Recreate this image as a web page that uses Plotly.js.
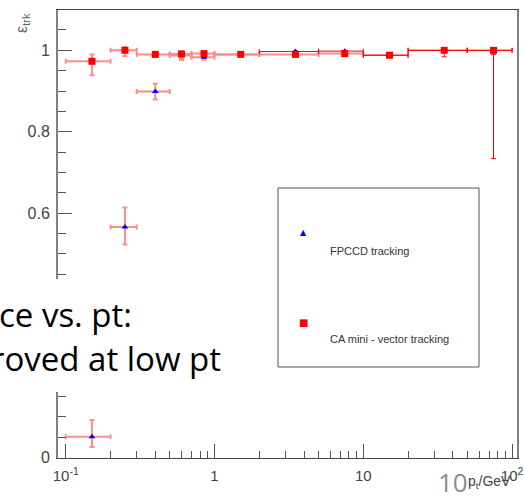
<!DOCTYPE html>
<html>
<head>
<meta charset="utf-8">
<script src="https://cdn.plot.ly/plotly-3.0.1.min.js"></script>
<style>html,body{margin:0;padding:0;background:#fff;}#chart{width:524px;height:502px;}</style>
</head>
<body>
<div id="chart"></div>
<script>
// ---- data ----
const ptLow    = [0.1, 0.2, 0.3, 0.5, 0.7, 1, 2, 5, 10, 20, 50];
const ptHigh   = [0.2, 0.3, 0.5, 0.7, 1, 2, 5, 10, 20, 50, 100];
const ptCenter = [0.15, 0.25, 0.4, 0.6, 0.85, 1.5, 3.5, 7.5, 15, 35, 75];

const caEff     = [0.973, 1.000, 0.990, 0.991, 0.992, 0.990, 0.990, 0.992, 0.988, 1.000, 1.000];
const caErrUp   = [0.017, 0.008, 0.006, 0.007, 0.004, 0.003, 0.003, 0.003, 0.004, 0.000, 0.000];
const caErrDown = [0.034, 0.014, 0.007, 0.015, 0.005, 0.003, 0.003, 0.003, 0.004, 0.016, 0.266];

const fpEff     = [0.051, 0.566, 0.899, 0.987, 0.983, 0.990, 0.997, 0.998, 0.988, 1.000, 1.000];
const fpErrUp   = [0.041, 0.048, 0.019, 0.005, 0.005, 0.003, 0.002, 0.002, 0.004, 0.000, 0.000];
const fpErrDown = [0.025, 0.043, 0.020, 0.006, 0.006, 0.003, 0.003, 0.003, 0.004, 0.005, 0.010];

const seriesNames = ["FPCCD tracking", "CA mini - vector tracking"];
const xTickVals = [0.1, 1, 10, 100];
const xTickText = ["10<sup>-1</sup>", "1", "10", "10<sup>2</sup>"];
const xMinorVals = [0.2,0.3,0.4,0.5,0.6,0.7,0.8,0.9,2,3,4,5,6,7,8,9,20,30,40,50,60,70,80,90];
const yTickVals = [0, 0.2, 0.4, 0.6, 0.8, 1];
const yTickText = ["0", "", "", "0.6", "0.8", "1"];   // 0.2 and 0.4 are hidden behind the slide text box

// ---- layout helpers ----
const W = 524, H = 502, ML = 58, MR = 7, MT = 10, MB = 44;
const PW = W - ML - MR, PH = H - MT - MB;
const px = v => (v - ML) / PW;
const py = v => (H - MB - v) / PH;

function pick(arr, idx) { return idx.map(i => arr[i]); }
const allIdx = ptCenter.map((_, i) => i);
const xm = ptCenter.map((c, i) => c - ptLow[i]);
const xp = ptCenter.map((c, i) => ptHigh[i] - c);

function errTrace(eff, up, down, idx, color, thick) {
  return {
    type: 'scatter', mode: 'markers', hoverinfo: 'skip', showlegend: false,
    x: pick(ptCenter, idx), y: pick(eff, idx),
    marker: {size: 1, color: 'rgba(0,0,0,0)'},
    error_x: {type: 'data', symmetric: false, array: pick(xp, idx), arrayminus: pick(xm, idx),
              color: color, thickness: thick, width: 2.5},
    error_y: {type: 'data', symmetric: false, array: pick(up, idx), arrayminus: pick(down, idx),
              color: color, thickness: thick, width: 2.5}
  };
}
const soft = '#ff8c8c', hard = '#ff0000';
const fpSoftIdx = allIdx.filter(i => ptCenter[i] < 2), fpHardIdx = allIdx.filter(i => ptCenter[i] >= 2);
const caSoftIdx = allIdx.filter(i => ptCenter[i] < 10), caHardIdx = allIdx.filter(i => ptCenter[i] >= 10);

const traces = [
  errTrace(fpEff, fpErrUp, fpErrDown, fpSoftIdx, soft, 2),
  errTrace(caEff, caErrUp, caErrDown, caSoftIdx, soft, 2),
  errTrace(fpEff, fpErrUp, fpErrDown, fpHardIdx, hard, 1),
  errTrace(caEff, caErrUp, caErrDown, caHardIdx, hard, 1),
  {type: 'scatter', mode: 'markers', name: seriesNames[0], x: ptCenter, y: fpEff,
   marker: {symbol: 'triangle-up', size: 6, color: '#0000ff'}},
  {type: 'scatter', mode: 'markers', name: seriesNames[1], x: ptCenter, y: caEff,
   marker: {symbol: 'square', size: 7, color: '#ff0000'}}
];

const tickFont = {family: 'Liberation Sans, Arial, sans-serif', size: 16, color: '#444'};
const layout = {
  width: W, height: H,
  margin: {l: ML, r: MR, t: MT, b: MB, pad: 0},
  paper_bgcolor: '#fff', plot_bgcolor: '#fff',
  showlegend: false,
  xaxis: {
    type: 'log', range: [-1.052, 2.033],
    showgrid: false, zeroline: false,
    showline: true, linecolor: '#444', linewidth: 1, mirror: true,
    ticks: 'inside', ticklen: 14, tickcolor: '#555', tickwidth: 1,
    tickmode: 'array', tickvals: xTickVals, ticktext: xTickText,
    tickfont: {family: 'Liberation Sans, Arial, sans-serif', size: 15, color: '#444'}, ticklabelstandoff: 4,
    minor: {tickmode: 'array', tickvals: xMinorVals, ticks: 'inside', ticklen: 7, tickcolor: '#555', tickwidth: 1, showgrid: false}
  },
  yaxis: {
    range: [-0.001, 1.099],
    showgrid: false, zeroline: false,
    showline: true, linecolor: '#808080', linewidth: 2, mirror: true,
    ticks: 'inside', ticklen: 14, tickcolor: '#555', tickwidth: 1,
    tickmode: 'array', tickvals: yTickVals, ticktext: yTickText,
    tickfont: tickFont, ticklabelstandoff: 3,
    minor: {dtick: 0.05, ticks: 'inside', ticklen: 8, tickcolor: '#555', tickwidth: 1, showgrid: false}
  },
  shapes: [
    // legend box
    {type: 'rect', xref: 'paper', yref: 'paper', x0: px(278), x1: px(479), y0: py(367), y1: py(188),
     line: {color: '#555', width: 1}, fillcolor: 'rgba(255,255,255,1)', layer: 'above'},
    // slide text box covering part of the axis
    {type: 'rect', xref: 'paper', yref: 'paper', x0: px(-5), x1: px(236), y0: py(392), y1: py(279),
     line: {width: 0}, fillcolor: '#ffffff', layer: 'above'}
  ],
  annotations: [
    {xref: 'paper', yref: 'paper', x: px(303), y: py(233), text: '▲', showarrow: false,
     font: {family: 'DejaVu Sans', size: 8, color: '#0000ff'}, xanchor: 'center', yanchor: 'middle'},
    {xref: 'paper', yref: 'paper', x: px(328), y: py(251), text: seriesNames[0], showarrow: false,
     font: {family: 'Liberation Sans, Arial, sans-serif', size: 11, color: '#333'}, xanchor: 'left', yanchor: 'middle'},
    {xref: 'paper', yref: 'paper', x: px(303), y: py(322), text: '■', showarrow: false,
     font: {family: 'DejaVu Sans', size: 10, color: '#ff0000'}, xanchor: 'center', yanchor: 'middle'},
    {xref: 'paper', yref: 'paper', x: px(328), y: py(339), text: seriesNames[1], showarrow: false,
     font: {family: 'Liberation Sans, Arial, sans-serif', size: 11, color: '#333'}, xanchor: 'left', yanchor: 'middle'},
    // y title
    {xref: 'paper', yref: 'paper', x: px(23), y: py(23), text: 'ε<sub>trk</sub>', showarrow: false, textangle: -90,
     font: {family: 'Liberation Sans, Arial, sans-serif', size: 16, color: '#5a6470'}, xanchor: 'center', yanchor: 'middle'},
    // slide overlay texts
    {xref: 'paper', yref: 'paper', x: px(134), y: py(314), text: 'ce vs. pt:', showarrow: false,
     font: {family: 'Open Sans, sans-serif', size: 33, color: '#000'}, xanchor: 'right', yanchor: 'middle'},
    {xref: 'paper', yref: 'paper', x: px(223), y: py(358), text: 'roved at low pt', showarrow: false,
     font: {family: 'Open Sans, sans-serif', size: 33, color: '#000'}, xanchor: 'right', yanchor: 'middle'},
    // page number
    {xref: 'paper', yref: 'paper', x: px(453), y: py(482), text: '10', showarrow: false,
     font: {family: 'Open Sans, sans-serif', size: 26, color: '#8c8c8c'}, xanchor: 'center', yanchor: 'middle'},
    // x title
    {xref: 'paper', yref: 'paper', x: px(513), y: py(482), text: 'p<sub>t</sub>/GeV', showarrow: false,
     font: {family: 'Liberation Sans, Arial, sans-serif', size: 14, color: '#444'}, xanchor: 'right', yanchor: 'middle'}
  ]
};

Plotly.newPlot('chart', traces, layout, {staticPlot: true, displayModeBar: false});
</script>
</body>
</html>
